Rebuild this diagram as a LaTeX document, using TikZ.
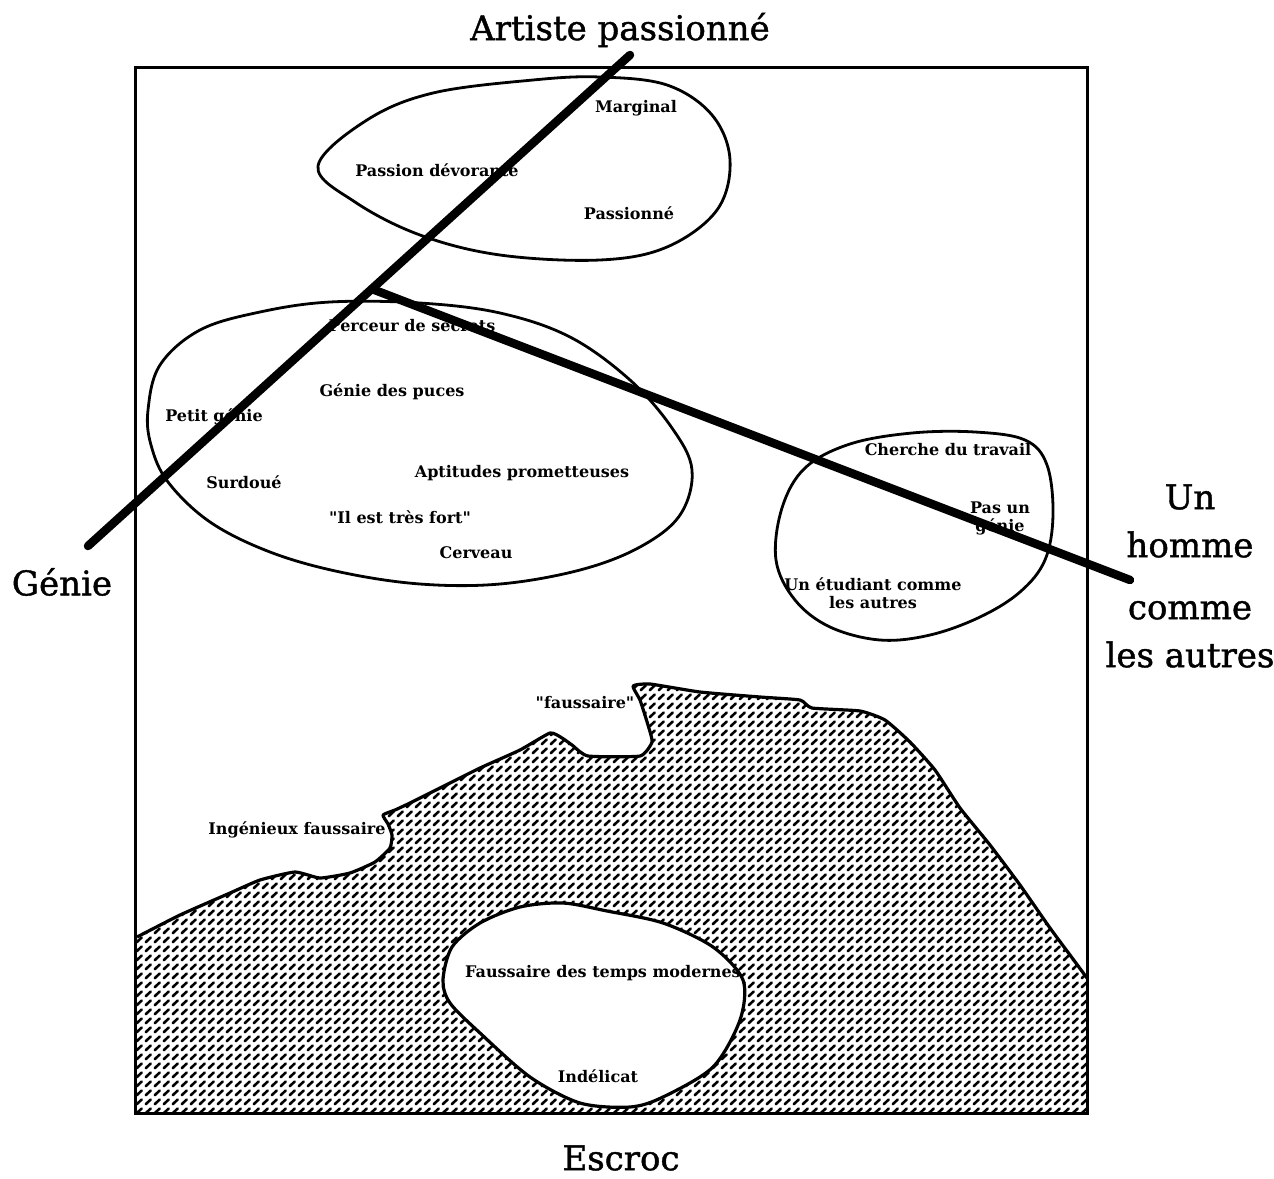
\documentclass[tikz,border=0pt]{standalone}
\usepackage{fontspec}
\setmainfont{DejaVu Serif}
\newfontfamily\lblfont{DejaVu Serif}
\newfontfamily\bigfont{DejaVu Serif}[FakeBold=1.2]
\usetikzlibrary{patterns}
\pgfdeclarepatternformonly{dashhatch}{\pgfqpoint{-1pt}{-1pt}}{\pgfqpoint{10pt}{10pt}}{\pgfqpoint{9pt}{9pt}}{%
  \pgfsetlinewidth{2.6pt}\pgfsetroundcap
  \pgfpathmoveto{\pgfqpoint{1.8pt}{1.8pt}}\pgfpathlineto{\pgfqpoint{6.6pt}{6.4pt}}\pgfusepath{stroke}}
\tikzset{
  small/.style={font=\lblfont\fontsize{16}{18}\selectfont\bfseries, inner sep=0pt, align=center},
  big/.style={font=\bigfont\fontsize{34}{48}\selectfont, inner sep=0pt, align=center},
  blob/.style={line width=2.8pt, line join=round},
  axis/.style={line width=8.5pt, line cap=round},
}
\begin{document}
\begin{tikzpicture}[x=1pt,y=-1pt]
\useasboundingbox (0,0) rectangle (1274,1178);
\fill[white] (0,0) rectangle (1274,1178);

% hatched region with hole
\path[pattern=dashhatch, even odd rule]
  plot[smooth, tension=0.3] coordinates {(137,937) (180,915) (230,893) (260,880) (295,872) (320,878) (350,873) (375,862) (390,848) (392,835) (388,824) (383,815) (395,810) (410,803) (440,788) (480,768) (520,750) (550,733) (562,738) (572,745) (588,756) (640,756) (652,742) (648,725) (640,700) (633,686) (650,684) (700,692) (760,697) (800,700) (812,708) (860,711) (885,720) (910,742) (935,770) (960,808) (990,845) (1020,885) (1050,928) (1070,955) (1087,978)}
  -- (1087,1113) -- (135,1113) -- cycle
  plot[smooth cycle] coordinates {(443,980) (452,947) (480,923) (520,907) (563,903) (607,911) (663,923) (713,947) (743,980) (740,1020) (713,1067) (663,1097) (630,1107) (580,1103) (530,1077) (480,1033) (450,1003)};

% coast line
\draw[blob, line width=3.2pt] plot[smooth, tension=0.3] coordinates {(137,937) (180,915) (230,893) (260,880) (295,872) (320,878) (350,873) (375,862) (390,848) (392,835) (388,824) (383,815) (395,810) (410,803) (440,788) (480,768) (520,750) (550,733) (562,738) (572,745) (588,756) (640,756) (652,742) (648,725) (640,700) (633,686) (650,684) (700,692) (760,697) (800,700) (812,708) (860,711) (885,720) (910,742) (935,770) (960,808) (990,845) (1020,885) (1050,928) (1070,955) (1087,978)};

% hole (ellipse 4)
\draw[blob, line width=3.2pt] plot[smooth cycle] coordinates {(443,980) (452,947) (480,923) (520,907) (563,903) (607,911) (663,923) (713,947) (743,980) (740,1020) (713,1067) (663,1097) (630,1107) (580,1103) (530,1077) (480,1033) (450,1003)};

% ellipse 1 (top)
\draw[blob] plot[smooth cycle, tension=0.6] coordinates {(318,166) (367,120) (433,93) (533,80) (600,77) (667,85) (712,115) (730,160) (717,210) (667,247) (600,260) (500,255) (420,235) (355,202)};

% ellipse 2 (middle)
\draw[blob] plot[smooth cycle, tension=0.6] coordinates {(148,410) (160,365) (200,330) (260,312) (330,302) (420,303) (500,313) (570,337) (630,380) (672,428) (692,470) (680,515) (640,547) (580,570) (500,584) (420,584) (340,572) (270,552) (210,522) (168,482) (151,445)};

% ellipse 3 (right)
\draw[blob] plot[smooth cycle, tension=0.6] coordinates {(776,560) (782,508) (805,468) (850,444) (912,433) (975,432) (1025,440) (1047,465) (1053,515) (1045,560) (1020,592) (980,617) (930,635) (880,640) (830,627) (795,600)};

% small labels
\node[small] (marg) at (636,108) {Marginal};
\node[small] (pdev) at (437,170) {Passion dévorante};
\node[small] (pass) at (629,213) {Passionné};
\node[small] (perc) at (412,326) {Perceur de secrets};
\node[small] (gpuc) at (392,392) {Génie des puces};
\node[small] (pgen) at (214,417) {Petit génie};
\node[small] (surd) at (244,482) {Surdoué};
\node[small] (apti) at (522,473) {Aptitudes prometteuses};
\node[small] (fort) at (400,517) {"Il est très fort"};
\node[small] (cerv) at (476,553) {Cerveau};
\node[small] (cher) at (948,450) {Cherche du travail};
\node[small] (pasg) at (1000,518) {Pas un\\génie};
\node[small] (etud) at (873,593) {Un étudiant comme\\les autres};
\node[small] (fau1) at (585,703) {"faussaire"};
\node[small] (fau2) at (297,830) {Ingénieux faussaire};
\node[small] (fau3) at (603,973) {Faussaire des temps modernes};
\node[small] (inde) at (598,1076) {Indélicat};

% big labels
\node[big] (art) at (620,30) {Artiste passionné};
\node[big] (gen) at (62,582) {Génie};
\node[big] (esc) at (621,1158) {Escroc};
\node[big] (hom) at (1190,576) {Un\\homme\\[14pt]comme\\les autres};

% axes
\coordinate (g) at (88,546);
\coordinate (a) at (630,55);
\coordinate (j) at (372,289);
\coordinate (h) at (1130,580);
\draw[axis] (g) -- (a);
\draw[axis] (j) -- (h);

% frame
\draw[line width=3pt] (135,67) rectangle (1087,1113);
\end{tikzpicture}
\end{document}
